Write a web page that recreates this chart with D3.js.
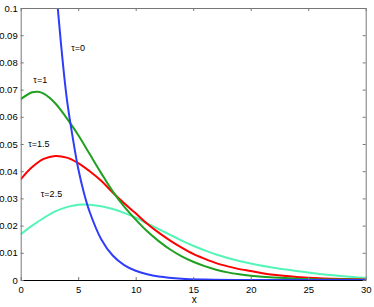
<!DOCTYPE html>
<html>
<head>
<meta charset="utf-8">
<script src="https://cdn.jsdelivr.net/npm/d3@7"></script>
<style>
  body { margin: 0; background: #fff; }
  text { font-family: "Liberation Sans", Arial, sans-serif; }
</style>
</head>
<body>
<div id="chart"></div>
<script>
// values
var xTicks = [0, 5, 10, 15, 20, 25, 30];
var yTicks = [0, 0.01, 0.02, 0.03, 0.04, 0.05, 0.06, 0.07, 0.08, 0.09, 0.1];

var tau0X = [3, 3.5, 4, 4.5, 5, 5.5, 6, 7, 8, 9, 10, 11, 12, 14, 16, 20, 30];
var tau0Y = [0.111, 0.087, 0.067, 0.053, 0.041, 0.032, 0.025, 0.015, 0.009, 0.0055, 0.0034, 0.0021, 0.0013, 0.0005, 0.0002, 0, 0];

var tau1X = [0, 1, 1.5, 2, 3, 4, 5, 6, 7, 8, 9, 10, 11, 12, 13, 14, 15, 16, 17, 18, 19, 20, 22, 24, 27, 30];
var tau1Y = [0.0665, 0.069, 0.0692, 0.0685, 0.065, 0.0595, 0.0533, 0.0463, 0.0393, 0.0326, 0.027, 0.0222, 0.0179, 0.0143, 0.0112, 0.0087, 0.0067, 0.0051, 0.0038, 0.0028, 0.0021, 0.0016, 0.0009, 0.0005, 0.0002, 0.0001];

var tau15X = [0, 1, 2, 3, 4, 5, 6, 7, 8, 9, 10, 11, 12, 13, 14, 15, 16, 17, 18, 19, 20, 22, 24, 26, 30];
var tau15Y = [0.037, 0.0415, 0.0445, 0.0456, 0.045, 0.043, 0.04, 0.0365, 0.0322, 0.0282, 0.0245, 0.0207, 0.0174, 0.0145, 0.0119, 0.0096, 0.0078, 0.0062, 0.005, 0.004, 0.0033, 0.0019, 0.0011, 0.0006, 0.0002];

var tau25X = [0, 1, 2, 3, 4, 5, 5.5, 6, 7, 8, 9, 10, 11, 12, 13, 14, 15, 16, 17, 18, 19, 20, 22, 24, 26, 28, 30];
var tau25Y = [0.0168, 0.02, 0.0228, 0.0252, 0.0268, 0.0277, 0.0278, 0.0277, 0.0271, 0.0261, 0.0247, 0.0229, 0.0208, 0.0187, 0.0166, 0.0145, 0.0126, 0.0109, 0.0094, 0.0081, 0.007, 0.0061, 0.0045, 0.0033, 0.0022, 0.0014, 0.0008];

var labels = ["τ=0", "τ=1", "τ=1.5", "τ=2.5"];
var labelX = [4.4, 1.1, 0.65, 1.75];
var labelY = [0.0842, 0.0725, 0.0488, 0.0306];

var width = 374,
    height = 307;

var margin = { left: 20.7, right: 8.3, top: 8, bottom: 27 };

var svg = d3.select("#chart")
    .append("svg")
    .attr("width", width)
    .attr("height", height)

var x = d3.scaleLinear().domain([0, 30]).range([margin.left, width - margin.right])
var y = d3.scaleLinear().domain([0, 0.1]).range([height - margin.bottom, margin.top])

svg.append("defs").append("clipPath")
    .attr("id", "plot-clip")
    .append("rect")
    .attr("x", x(0))
    .attr("y", y(0.1))
    .attr("width", x(30) - x(0))
    .attr("height", y(0) - y(0.1))

var series = [
    { xs: tau0X, ys: tau0Y, color: "#2f3dfb" },
    { xs: tau1X, ys: tau1Y, color: "#20a020" },
    { xs: tau15X, ys: tau15Y, color: "#ff0000" },
    { xs: tau25X, ys: tau25Y, color: "#55f5b8" }
]

var line = d3.line()
    .x(function (d) { return x(d[0]) })
    .y(function (d) { return y(d[1]) })
    .curve(d3.curveCatmullRom.alpha(0.5))

var plot = svg.append("g").attr("clip-path", "url(#plot-clip)")

// draw back-to-front like the original: aqua, red, green, blue
plot.selectAll(".curve")
    .data(series.slice().reverse())
    .enter().append("path")
    .attr("class", "curve")
    .attr("fill", "none")
    .attr("stroke", function (d) { return d.color })
    .attr("stroke-width", 2)
    .attr("d", function (d) {
        return line(d.xs.map(function (v, i) { return [v, d.ys[i]] }))
    })

// axes, ticks pointing inward
var axisColor = "#777"

var bottom = svg.append("g")
    .attr("transform", "translate(0," + y(0) + ")")
    .call(d3.axisBottom(x).tickValues(xTicks).tickSizeInner(-3).tickSizeOuter(0).tickPadding(6))
var top = svg.append("g")
    .attr("transform", "translate(0," + y(0.1) + ")")
    .call(d3.axisTop(x).tickValues(xTicks).tickSizeInner(-3).tickSizeOuter(0).tickFormat(""))
var left = svg.append("g")
    .attr("transform", "translate(" + x(0) + ",0)")
    .call(d3.axisLeft(y).tickValues(yTicks).tickSizeInner(-3).tickSizeOuter(0).tickPadding(3)
        .tickFormat(function (d) { return d === 0 ? "0" : d3.format("~g")(d) }))
var right = svg.append("g")
    .attr("transform", "translate(" + x(30) + ",0)")
    .call(d3.axisRight(y).tickValues(yTicks).tickSizeInner(-3).tickSizeOuter(0).tickFormat(""))

svg.selectAll(".domain").attr("stroke", axisColor)
svg.selectAll(".tick line").attr("stroke", axisColor)
bottom.select(".domain").attr("stroke", "#000")
svg.selectAll(".tick text")
    .attr("fill", "#000")
    .style("font-size", "9.5px")
    .style("font-family", "Liberation Sans, Arial, sans-serif")

svg.append("text")
    .attr("x", x(15) + 1)
    .attr("y", height - 4)
    .attr("text-anchor", "middle")
    .style("font-size", "10px")
    .text("x")

svg.selectAll(".tau-label")
    .data(labels)
    .enter().append("text")
    .attr("class", "tau-label")
    .attr("x", function (d, i) { return x(labelX[i]) })
    .attr("y", function (d, i) { return y(labelY[i]) })
    .style("font-size", "9px")
    .text(function (d) { return d })
</script>
</body>
</html>
